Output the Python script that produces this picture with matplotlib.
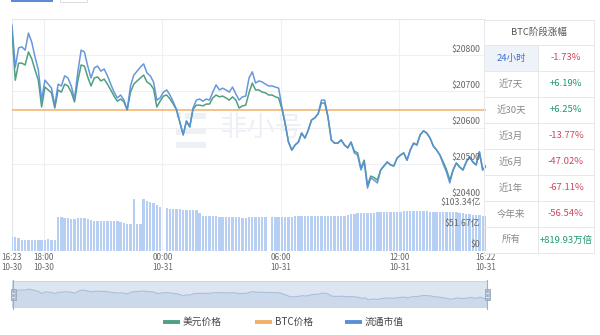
import numpy as np
import matplotlib
matplotlib.use("Agg")
import matplotlib.pyplot as plt
from matplotlib.patches import Rectangle

plt.rcParams["font.family"] = ["Noto Sans CJK SC", "DejaVu Sans"]

# ---- data: 10-minute samples from 10-30 16:23 to 10-31 16:23 ----
step_min = 10

usd_price = [
    20864, 20731, 20778, 20778, 20773, 20809, 20790, 20759, 20731, 20657,
    20712, 20704, 20696, 20654, 20704, 20698, 20720, 20715, 20698, 20671,
    20729, 20773, 20770, 20740, 20715, 20737, 20740, 20729, 20734, 20720,
    20704, 20687, 20673, 20679, 20671, 20649, 20698, 20720, 20729, 20737,
    20745, 20726, 20720, 20707, 20657, 20673, 20687, 20690, 20679, 20665,
    20649, 20615, 20580, 20618, 20602, 20651, 20662, 20662, 20660, 20665,
    20665, 20682, 20690, 20685, 20687, 20682, 20676, 20685, 20676, 20654,
    20660, 20662, 20696, 20723, 20704, 20704, 20698, 20696, 20690, 20690,
    20685, 20682, 20651, 20610, 20560, 20538, 20552, 20560, 20585, 20571,
    20593, 20621, 20627, 20638, 20668, 20668, 20629, 20566, 20557, 20557,
    20566, 20552, 20544, 20560, 20535, 20530, 20488, 20510, 20441, 20466,
    20462, 20455, 20483, 20494, 20505, 20497, 20494, 20516, 20524, 20530,
    20510, 20538, 20557, 20552, 20580, 20591, 20585, 20571, 20549, 20538,
    20524, 20505, 20484, 20455, 20483, 20502, 20491, 20483, 20505, 20519,
    20505, 20497, 20533, 20483, 20494,
]

cap_line = [
    20883, 20767, 20820, 20823, 20814, 20861, 20836, 20795, 20759, 20676,
    20731, 20720, 20709, 20660, 20720, 20715, 20743, 20737, 20715, 20679,
    20754, 20814, 20809, 20770, 20737, 20765, 20770, 20756, 20762, 20743,
    20720, 20698, 20682, 20690, 20676, 20649, 20715, 20745, 20756, 20767,
    20776, 20751, 20743, 20726, 20676, 20682, 20698, 20704, 20690, 20671,
    20649, 20615, 20580, 20618, 20602, 20654, 20676, 20679, 20673, 20679,
    20676, 20698, 20718, 20704, 20709, 20704, 20698, 20712, 20693, 20676,
    20685, 20687, 20737, 20754, 20723, 20729, 20726, 20720, 20715, 20715,
    20712, 20709, 20657, 20610, 20560, 20538, 20552, 20560, 20585, 20571,
    20593, 20621, 20627, 20638, 20676, 20676, 20629, 20566, 20557, 20557,
    20566, 20552, 20544, 20560, 20530, 20524, 20483, 20505, 20433, 20461,
    20455, 20447, 20483, 20494, 20505, 20497, 20494, 20516, 20524, 20530,
    20510, 20538, 20557, 20552, 20580, 20591, 20585, 20571, 20549, 20538,
    20524, 20499, 20477, 20447, 20483, 20502, 20491, 20483, 20505, 20519,
    20505, 20497, 20533, 20483, 20494,
]

btc_level = 20649

# circulating market value bars, unit: 亿 USD (0 = no sample)
cap_bars = [
    34, 34, 33, 28, 28, 27, 27, 27, 27, 28, 28, 29, 28, 26, 84, 83, 82, 80, 79, 79,
    80, 81, 81, 79, 76, 75, 75, 74, 74, 75, 74, 73, 74, 72, 70, 66, 66, 128, 66, 66,
    128, 123, 121, 118, 114, 108, 0, 105, 103, 103, 103, 103, 102, 102, 102, 102, 101, 93, 87, 86,
    86, 85, 85, 84, 84, 84, 84, 84, 83, 83, 82, 82, 83, 84, 84, 84, 84, 84, 0, 84,
    84, 84, 84, 84, 84, 84, 85, 85, 85, 85, 85, 85, 86, 86,
    86, 86, 86, 86, 86, 86, 87, 87, 88,
    91, 92,
    93, 93, 94, 94, 94, 94, 95, 95, 95, 95, 96,
    96, 97, 97, 98, 98, 98, 98, 98, 98, 98, 98, 97, 97,
    97, 96, 96, 96, 96, 95, 95, 94, 93,
    91, 90, 89, 88, 88, 87, 87,
]

price_ticks = [20400, 20500, 20600, 20700, 20800]
price_grid = [20400, 20500, 20600, 20700, 20800, 20900]
cap_ticks = [0, 51.67, 103.34]
cap_tick_labels = ["$0", "$51.67亿", "$103.34亿"]

tick_minutes = [0, 97, 457, 817, 1177, 1439]
tick_labels = ["16:23\n10-30", "18:00\n10-30", "00:00\n10-31",
               "06:00\n10-31", "12:00\n10-31", "16:22\n10-31"]

period_names = ["24小时", "近7天", "近30天", "近3月", "近6月", "近1年", "今年来", "所有"]
period_changes = ["-1.73%", "+6.19%", "+6.25%", "-13.77%", "-47.02%", "-67.11%", "-56.54%", "+819.93万倍"]

legend_names = ["美元价格", "BTC价格", "流通市值"]

# ---- styling ----
C_GREEN = "#4f9f80"
C_ORANGE = "#f2b06a"
C_BLUE = "#5a8fd8"
C_BAR = "#b6cff2"
C_GRID = "#eef0f4"
C_TEXT = "#666666"

W, H = 600, 335
fig = plt.figure(figsize=(W / 100, H / 100), dpi=100)
fig.patch.set_facecolor("white")


def box(x0, y0, x1, y1):
    return [x0 / W, 1 - y1 / H, (x1 - x0) / W, (y1 - y0) / H]


t = np.arange(len(cap_line)) * step_min
x_end = t[-1]

# ---- price panel ----
ax = fig.add_axes(box(12, 19, 486, 200))
ax.set_xlim(0, x_end)
ax.set_ylim(price_grid[0], price_grid[-1])
for s in ax.spines.values():
    s.set_visible(False)
ax.set_xticks([])
ax.set_yticks([])
for v in price_grid:
    ax.axhline(v, color=C_GRID, lw=0.8, zorder=0)
for m in tick_minutes[1:-1]:
    ax.axvline(m, color=C_GRID, lw=0.8, zorder=0)
ax.axvline(0, color="#e3e6ea", lw=0.8, zorder=0)
ax.axhline(price_grid[-1], color="#e3e6ea", lw=0.8, zorder=0)

# watermark
ax.text(0.525, 0.40, "非小号", transform=ax.transAxes, fontsize=20,
        color="#edf0f5", ha="center", va="center", zorder=0.5)
for (bx, by, bw, bh) in [(0.345, 0.455, 0.012, 0.03), (0.345, 0.36, 0.012, 0.03),
                         (0.365, 0.45, 0.045, 0.03), (0.365, 0.365, 0.045, 0.03),
                         (0.345, 0.29, 0.065, 0.03)]:
    ax.add_patch(Rectangle((bx, by), bw, bh, transform=ax.transAxes,
                           color="#edf0f5", lw=0, zorder=0.5))

ax.plot(t, np.full(len(t), btc_level), color=C_ORANGE, lw=1.1, zorder=2)
ax.plot(t, usd_price, color=C_GREEN, lw=1.1, zorder=3)
ax.plot(t, cap_line, color=C_BLUE, lw=1.1, alpha=0.92, zorder=4)

for v in price_ticks:
    ax.annotate(f"${v}", xy=(1, v), xycoords=("axes fraction", "data"),
                xytext=(-4, 1.2), textcoords="offset points",
                ha="right", va="bottom", fontsize=6.3, color=C_TEXT, zorder=5)

# ---- market value bars ----
axb = fig.add_axes(box(12, 199, 486, 251))
axb.set_xlim(0, x_end)
axb.set_ylim(0, 127.9)
for s in axb.spines.values():
    s.set_visible(False)
axb.axvline(0, color="#e3e6ea", lw=0.8, zorder=0)
for m in tick_minutes[1:-1]:
    axb.axvline(m, color=C_GRID, lw=0.8, zorder=0)
axb.bar(t, cap_bars, width=step_min * 0.72, color=C_BAR, lw=0, zorder=2)
axb.set_yticks([])
for v, lab in zip(cap_ticks, cap_tick_labels):
    axb.annotate(lab, xy=(1, v), xycoords=("axes fraction", "data"),
                 xytext=(-4, 1.2), textcoords="offset points",
                 ha="right", va="bottom", fontsize=6.3, color=C_TEXT, zorder=5)
axb.set_xticks(tick_minutes)
axb.set_xticklabels(tick_labels, fontsize=5.8, color=C_TEXT, linespacing=1.15)
axb.tick_params(axis="x", length=0, pad=1.5)

# ---- zoom slider ----
axs = fig.add_axes(box(12, 281, 487, 307))
axs.set_xlim(0, x_end)
axs.set_ylim(20191, 21091)
axs.set_facecolor("#dce5f0")
axs.fill_between(t, 20191, usd_price, color="#cbd9ea", lw=0)
axs.plot(t, usd_price, color="#a9bfdc", lw=0.8)
axs.set_xticks([])
axs.set_yticks([])
for s in axs.spines.values():
    s.set_color("#c8d3e2")
    s.set_linewidth(0.6)

# ---- overlay in pixel coordinates: table, legend, handles ----
ov = fig.add_axes([0, 0, 1, 1], zorder=10)
ov.set_xlim(0, W)
ov.set_ylim(H, 0)
ov.axis("off")
ov.patch.set_alpha(0)

# slider handles
for hx in (13, 487):
    ov.plot([hx, hx], [280, 309], color="#9fb0c6", lw=0.8)
    ov.add_patch(Rectangle((hx - 2.5, 289), 5, 11, facecolor="#b2c0d3",
                           edgecolor="#96a7bf", lw=0.6))
    ov.plot([hx - 1.2, hx + 1.2], [292.5, 292.5], color="white", lw=0.5)
    ov.plot([hx - 1.2, hx + 1.2], [296.5, 296.5], color="white", lw=0.5)

# top tab stubs
ov.add_patch(Rectangle((11, -3), 42, 4.5, facecolor="#5b8bd8", lw=0))
ov.add_patch(Rectangle((60, -3), 27, 4.5, facecolor="white", edgecolor="#dcdcdc", lw=0.7))

# stats table
tx0, tx1, tx2 = 484, 538, 594
ty_head, ty0, row_h = 20, 45, 26
n_rows = len(period_names)
ov.add_patch(Rectangle((tx0, ty0), tx1 - tx0, row_h, facecolor="#eef2f9", lw=0))
line_kw = dict(color="#e6e8ec", lw=0.7)
ov.plot([tx0, tx2], [ty_head, ty_head], **line_kw)
for r in range(n_rows + 1):
    y = ty0 + r * row_h
    ov.plot([tx0, tx2], [y, y], **line_kw)
ov.plot([tx0, tx0], [ty_head, ty0 + n_rows * row_h], **line_kw)
ov.plot([tx2, tx2], [ty_head, ty0 + n_rows * row_h], **line_kw)
ov.plot([tx1, tx1], [ty0, ty0 + n_rows * row_h], **line_kw)
ov.text((tx0 + tx2) / 2, (ty_head + ty0) / 2, "BTC阶段涨幅", ha="center", va="center",
        fontsize=6.8, color="#555555")
for r, (name, chg) in enumerate(zip(period_names, period_changes)):
    yc = ty0 + r * row_h + row_h / 2
    ov.text((tx0 + tx1) / 2, yc, name, ha="center", va="center", fontsize=6.8,
            color="#3b6fd0" if r == 0 else "#888888")
    ov.text((tx1 + tx2) / 2, yc, chg, ha="center", va="center", fontsize=6.8,
            color="#1f9a6b" if chg.startswith("+") else "#d0455d")

# legend
legend_colors = [C_GREEN, C_ORANGE, C_BLUE]
legend_x = [163, 255, 345]
for lx, name, col in zip(legend_x, legend_names, legend_colors):
    ov.plot([lx, lx + 17], [322, 322], color=col, lw=2.8, solid_capstyle="butt")
    ov.text(lx + 20, 322, name, ha="left", va="center", fontsize=7, color="#444444")

fig.savefig("out.png", dpi=100)
